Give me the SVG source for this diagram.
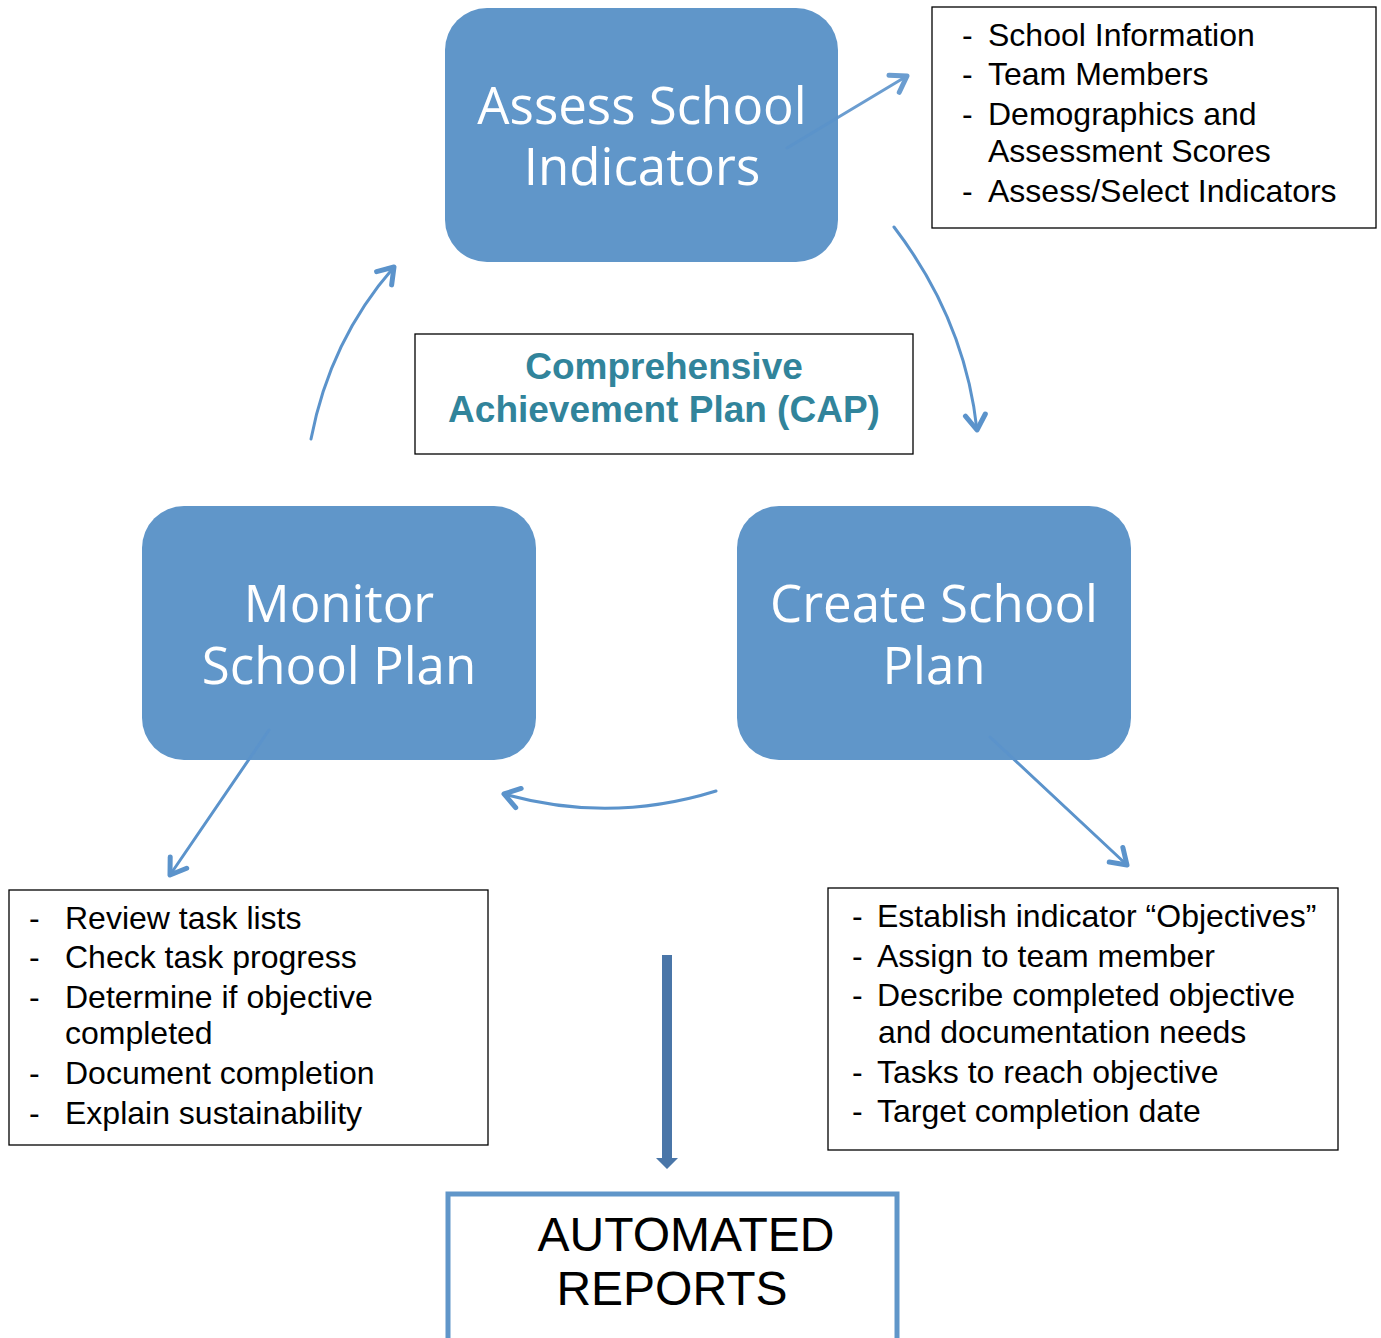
<svg xmlns="http://www.w3.org/2000/svg" width="1381" height="1338" viewBox="0 0 1381 1338">
<style>
.node{fill:#6096c9}
.nt{font-family:"Open Sans","Noto Sans",sans-serif;font-size:51px;fill:#fff;text-anchor:middle}
.box{fill:#fff;stroke:#000;stroke-width:1.3}
.bt{font-family:"Liberation Sans",Arial,sans-serif;font-size:32px;fill:#000}
.cap{font-family:"Liberation Sans",Arial,sans-serif;font-size:37px;font-weight:bold;fill:#31849b;text-anchor:middle}
.conn{fill:none;stroke:#5b93cb;stroke-width:3;stroke-linecap:round}
</style>
<defs>
<marker id="chev" viewBox="0 0 26 26" refX="21" refY="13" markerWidth="26" markerHeight="26" markerUnits="userSpaceOnUse" orient="auto">
<path d="M6,3 L21,13 L6,23" fill="none" stroke="#5b93cb" stroke-width="5" stroke-linecap="round" stroke-linejoin="round"/>
</marker>
</defs>
<rect width="1381" height="1338" fill="#fff"/>
<g id="assess">
<rect class="node" x="445" y="8" width="393" height="254" rx="42"/>
<text class="nt" x="642" y="124">Assess School</text>
<text class="nt" x="642" y="185">Indicators</text>
</g>
<g id="monitor">
<rect class="node" x="142" y="506" width="394" height="254" rx="42"/>
<text class="nt" x="339" y="622">Monitor</text>
<text class="nt" x="339" y="684">School Plan</text>
</g>
<g id="create">
<rect class="node" x="737" y="506" width="394" height="254" rx="42"/>
<text class="nt" x="934" y="622">Create School</text>
<text class="nt" x="934" y="684">Plan</text>
</g>
<g id="info-assess">
<rect class="box" x="932" y="7" width="444" height="221"/>
<text class="bt"><tspan x="962" y="46">-</tspan><tspan x="988" y="46">School Information</tspan>
<tspan x="962" y="85">-</tspan><tspan x="988" y="85">Team Members</tspan>
<tspan x="962" y="125">-</tspan><tspan x="988" y="125">Demographics and</tspan>
<tspan x="988" y="162">Assessment Scores</tspan>
<tspan x="962" y="202">-</tspan><tspan x="988" y="202">Assess/Select Indicators</tspan></text>
</g>
<g id="cap">
<rect class="box" x="415" y="334" width="498" height="120"/>
<text class="cap" x="664" y="379">Comprehensive</text>
<text class="cap" x="664" y="422">Achievement Plan (CAP)</text>
</g>
<g id="info-monitor">
<rect class="box" x="9" y="890" width="479" height="255"/>
<text class="bt"><tspan x="29" y="929">-</tspan><tspan x="65" y="929">Review task lists</tspan>
<tspan x="29" y="968">-</tspan><tspan x="65" y="968">Check task progress</tspan>
<tspan x="29" y="1008">-</tspan><tspan x="65" y="1008">Determine if objective</tspan>
<tspan x="65" y="1044">completed</tspan>
<tspan x="29" y="1084">-</tspan><tspan x="65" y="1084">Document completion</tspan>
<tspan x="29" y="1124">-</tspan><tspan x="65" y="1124">Explain sustainability</tspan></text>
</g>
<g id="info-create">
<rect class="box" x="828" y="888" width="510" height="262"/>
<text class="bt"><tspan x="852" y="927">-</tspan><tspan x="877" y="927">Establish indicator “Objectives”</tspan>
<tspan x="852" y="967">-</tspan><tspan x="877" y="967">Assign to team member</tspan>
<tspan x="852" y="1006">-</tspan><tspan x="877" y="1006">Describe completed objective</tspan>
<tspan x="878" y="1043">and documentation needs</tspan>
<tspan x="852" y="1083">-</tspan><tspan x="877" y="1083">Tasks to reach objective</tspan>
<tspan x="852" y="1122">-</tspan><tspan x="877" y="1122">Target completion date</tspan></text>
</g>
<g id="reports">
<rect x="448" y="1194" width="449" height="150" fill="#fff" stroke="#6096c9" stroke-width="5"/>
<text font-family="'Liberation Sans',Arial,sans-serif" font-size="48" fill="#000" text-anchor="middle"><tspan x="686" y="1251">AUTOMATED</tspan><tspan x="672" y="1305">REPORTS</tspan></text>
</g>
<g id="connectors">
<path class="conn" d="M787,148 L907,76" opacity="0.9" marker-end="url(#chev)"/>
<path class="conn" d="M894,227 Q965,320 977,430" marker-end="url(#chev)"/>
<path class="conn" d="M311,439 Q330,340 394,267" marker-end="url(#chev)"/>
<path class="conn" d="M716,791 Q610,824 504,794" marker-end="url(#chev)"/>
<path class="conn" d="M269,730 L170,875" marker-end="url(#chev)"/>
<path class="conn" d="M990,737 L1127,865" marker-end="url(#chev)"/>
<path d="M662,955 H672 V1158 H678 L667,1169 L656,1158 H662 Z" fill="#4a76a8"/>
</g>
</svg>
